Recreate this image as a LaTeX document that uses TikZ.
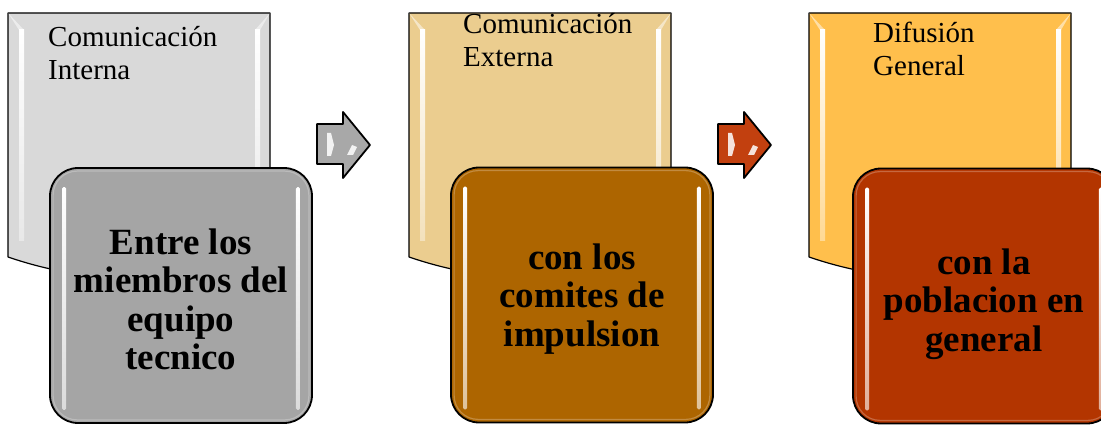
\documentclass[tikz,border=0pt]{standalone}
\usepackage{fontspec}
\setmainfont{Liberation Serif}
\definecolor{backA}{HTML}{D9D9D9}
\definecolor{frontA}{HTML}{A5A5A5}
\definecolor{backB}{HTML}{EBCD8F}
\definecolor{frontB}{HTML}{AD6500}
\definecolor{backC}{HTML}{FFBF4C}
\definecolor{frontC}{HTML}{B33500}
\definecolor{arrowA}{HTML}{A8A8A8}
\definecolor{arrowB}{HTML}{C2400F}
\tikzset{
  backpanel/.style={draw=black, line width=1.2pt, line join=round},
  frontbox/.style={draw=black, line width=1.8pt, rounded corners=28pt, minimum width=262pt, minimum height=255pt, inner sep=0pt},
  backtext/.style={font=\fontsize{29}{33}\selectfont, align=left, inner sep=0pt, anchor=base west},
  fronttext/.style={font=\fontsize{37}{38.5}\selectfont\bfseries, align=center, inner sep=0pt},
  blockarrow/.style={draw=black, line width=1.8pt, line join=round},
  glint/.style={fill=white, draw=none, opacity=0.85}
}
\begin{document}
\begin{tikzpicture}[x=1pt,y=-1pt]
\useasboundingbox (0,0) rectangle (1101,425);
\clip (0,0) rectangle (1101,425);
% back panels
\foreach \dx/\col in {0/backA, 401/backB, 801/backC}{
  \begin{scope}[xshift=\dx pt]
    \filldraw[backpanel, fill=\col] (8,13) -- (270,13) -- (270,250)
      .. controls (170,285) and (90,285) .. (8,257) -- cycle;
    \shade[top color=white, bottom color=\col!60!white, draw=none] (19,30) rectangle (24,240);
    \shade[top color=white, bottom color=\col!60!white, draw=none] (255,30) rectangle (260,240);
    \fill[white, opacity=0.5] (8,13) -- (24,30) -- (19,30) -- cycle;
    \fill[white, opacity=0.5] (270,13) -- (255,30) -- (260,30) -- cycle;
  \end{scope}
}
% back texts (base anchor = baseline of the last line)
\node[backtext] (t1) at (48,80) {Comunicación\\Interna};
\node[backtext] (t2) at (463,67) {Comunicación\\Externa};
\node[backtext] (t3) at (873,76) {Difusión\\General};
% front boxes
\node[frontbox, fill=frontA] (f1) at (181,295.5) {};
\node[frontbox, fill=frontB] (f2) at (582,295) {};
\node[frontbox, fill=frontC] (f3) at (984,296) {};
\foreach \b/\col in {f1/frontA, f2/frontB, f3/frontC}{
  \draw[\col!75!white, line width=1.2pt, rounded corners=24pt]
    ([xshift=4pt,yshift=-4pt]\b.north west) rectangle ([xshift=-4pt,yshift=4pt]\b.south east);
  \shade[top color=white, bottom color=\col!40!white, draw=none, rounded corners=1.5pt]
    ([xshift=13pt,yshift=-20pt]\b.north west) rectangle ([xshift=17pt,yshift=14pt]\b.south west);
  \shade[top color=white, bottom color=\col!40!white, draw=none, rounded corners=1.5pt]
    ([xshift=-17pt,yshift=-20pt]\b.north east) rectangle ([xshift=-13pt,yshift=14pt]\b.south east);
}
% front texts
\node[fronttext] (l1) at ([yshift=-4pt]f1.center) {Entre los\\miembros del\\equipo\\tecnico};
\node[fronttext] (l2) at ([yshift=-4pt]f2.center) {con los\\comites de\\impulsion};
\node[fronttext] (l3) at ([yshift=-8pt]f3.center) {con la\\poblacion en\\general};
% block arrows
\foreach \dx/\col in {0/arrowA, 401/arrowB}{
  \begin{scope}[xshift=\dx pt]
    \filldraw[blockarrow, fill=\col] (317,124) -- (343,124) -- (343,112) -- (370,145)
      -- (343,178) -- (343,164) -- (317,164) -- cycle;
    \fill[glint] (327,133) -- (331,133) -- (334,145) -- (331,156) -- (327,156) -- cycle;
    \fill[glint] (352,145) -- (357,147) -- (353,155) -- (347,155) -- cycle;
  \end{scope}
}
\end{tikzpicture}
\end{document}
